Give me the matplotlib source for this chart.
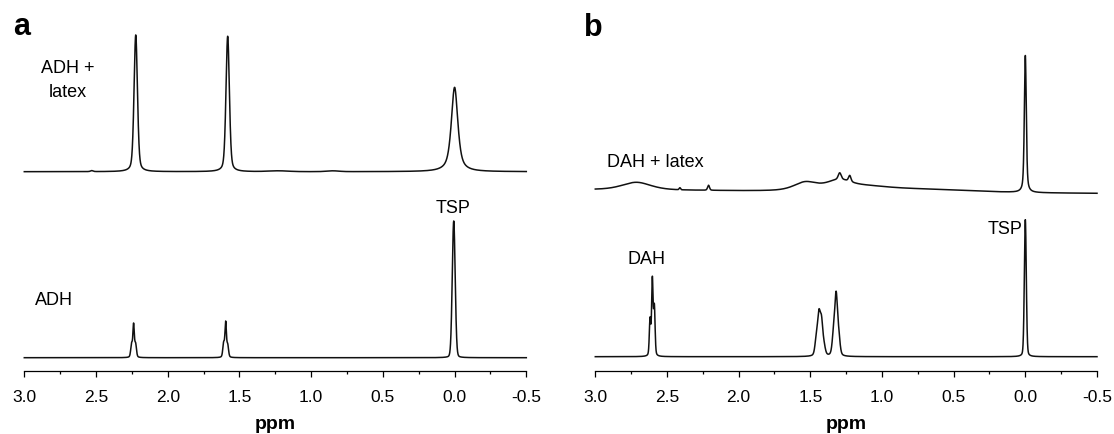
import numpy as np
import matplotlib.pyplot as plt
from matplotlib.ticker import MultipleLocator, FormatStrFormatter

plt.rcParams['font.family'] = ['Liberation Sans', 'DejaVu Sans']
plt.rcParams['axes.unicode_minus'] = False

# chemical shift axis (ppm), high to low like an NMR plot
ppm = np.linspace(3.0, -0.5, 7001)

# panel a, upper trace: ADH + latex
a_top_base = [199.3, 199.3]          # baseline at 3.0 ppm and at -0.5 ppm
a_top_ppm = [2.53, 2.223, 1.582, 1.23, 0.85, 0.0]
a_top_height = [1.0, 136.7, 135.4, 0.8, 0.8, 84.4]
a_top_hwhm = [0.01, 0.014, 0.014, 0.08, 0.05, 0.027]
a_top_eta = [0.5, 0.35, 0.35, 0.0, 0.0, 0.7]

# panel a, lower trace: ADH
a_bot_base = [13.3, 13.3]
a_bot_ppm = [2.252, 2.238, 2.224, 1.610, 1.596, 1.582, 0.006]
a_bot_height = [13.0, 32.0, 13.0, 14.0, 34.0, 12.0, 136.7]
a_bot_hwhm = [0.007, 0.006, 0.007, 0.007, 0.006, 0.007, 0.012]
a_bot_eta = [0.3, 0.3, 0.3, 0.3, 0.3, 0.3, 0.1]

# panel b, upper trace: DAH + latex
b_top_base = [181.3, 177.7]
b_top_ppm = [2.713, 2.41, 2.21, 1.537, 1.295, 1.225, 1.30, 1.25, 0.75, 0.0]
b_top_height = [7.7, 2.0, 5.0, 7.0, 6.5, 6.0, 5.0, 6.0, 3.0, 137.0]
b_top_hwhm = [0.12, 0.006, 0.008, 0.09, 0.012, 0.01, 0.08, 0.25, 0.4, 0.008]
b_top_eta = [0.5, 0.0, 0.3, 0.5, 0.3, 0.3, 0.0, 0.0, 0.0, 0.5]

# panel b, lower trace: DAH
b_bot_base = [14.3, 14.3]
b_bot_ppm = [2.618, 2.602, 2.588, 1.458, 1.440, 1.422, 1.404, 1.338, 1.320, 1.302, 0.0]
b_bot_height = [36.0, 76.0, 48.0, 16.0, 38.0, 32.0, 8.0, 20.0, 58.0, 18.0, 137.0]
b_bot_hwhm = [0.006, 0.006, 0.006, 0.011, 0.011, 0.011, 0.011, 0.011, 0.011, 0.011, 0.008]
b_bot_eta = [0.3, 0.3, 0.3, 0.3, 0.3, 0.3, 0.3, 0.3, 0.3, 0.3, 0.2]


def spectrum(base, centers, heights, hwhm, eta):
    y = base[0] + (base[1] - base[0]) * (3.0 - ppm) / 3.5
    for c, h, w, e in zip(centers, heights, hwhm, eta):
        u2 = ((ppm - c) / w) ** 2
        y = y + h * (e / (1 + u2) + (1 - e) * np.exp(-np.log(2) * u2))
    return y


W, H = 1114, 435
fig = plt.figure(figsize=(W / 100, H / 100), dpi=100)
ax1 = fig.add_axes([24.3 / W, 63 / H, 502 / W, 372 / H])
ax2 = fig.add_axes([595.3 / W, 63 / H, 501.7 / W, 372 / H])

ax1.plot(ppm, spectrum(a_top_base, a_top_ppm, a_top_height, a_top_hwhm, a_top_eta),
         color='#111111', lw=1.1, clip_on=False)
ax1.plot(ppm, spectrum(a_bot_base, a_bot_ppm, a_bot_height, a_bot_hwhm, a_bot_eta),
         color='#111111', lw=1.1, clip_on=False)
ax2.plot(ppm, spectrum(b_top_base, b_top_ppm, b_top_height, b_top_hwhm, b_top_eta),
         color='#111111', lw=1.1, clip_on=False)
ax2.plot(ppm, spectrum(b_bot_base, b_bot_ppm, b_bot_height, b_bot_hwhm, b_bot_eta),
         color='#111111', lw=1.1, clip_on=False)

for ax in (ax1, ax2):
    ax.set_xlim(3.0, -0.5)
    ax.set_ylim(0, 372)
    for s in ('top', 'left', 'right'):
        ax.spines[s].set_visible(False)
    ax.spines['bottom'].set_linewidth(0.9)
    ax.set_yticks([])
    ax.xaxis.set_major_locator(MultipleLocator(0.5))
    ax.xaxis.set_minor_locator(MultipleLocator(0.25))
    ax.xaxis.set_major_formatter(FormatStrFormatter('%.1f'))
    ax.tick_params(axis='x', which='major', direction='out', length=4.3, width=0.9,
                   labelsize=12.5, pad=8.5)
    ax.tick_params(axis='x', which='minor', direction='out', length=2.2, width=0.9)
    ax.set_xlabel('ppm', fontsize=14, fontweight='bold', labelpad=8)
    ax.patch.set_visible(False)

txt = dict(fontsize=13, ha='center', va='baseline')
ax1.text(2.70, 299, 'ADH +', **txt)
ax1.text(2.70, 275.3, 'latex', **txt)
ax1.text(2.79, 67, 'ADH', **txt)
ax1.text(0.014, 159, 'TSP', **txt)
ax2.text(2.58, 205.3, 'DAH + latex', **txt)
ax2.text(2.644, 108, 'DAH', **txt)
ax2.text(0.022, 137.5, 'TSP', fontsize=13, ha='right', va='baseline')

fig.text(12.7 / W, 1 - 35 / H, 'a', fontsize=22, fontweight='bold', va='baseline')
fig.text(583.6 / W, 1 - 36 / H, 'b', fontsize=22, fontweight='bold', va='baseline')

fig.savefig('out.png', dpi=100)
